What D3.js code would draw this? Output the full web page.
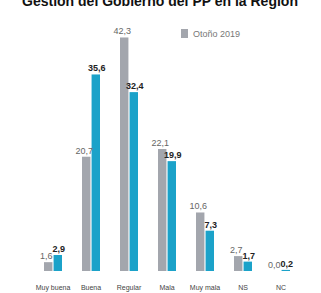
<!DOCTYPE html>
<html><head><meta charset="utf-8">
<script src="https://cdn.jsdelivr.net/npm/d3@7"></script>
<style>body{margin:0;background:#fff}svg{display:block}</style>
</head><body>
<svg id="c" width="321" height="293"></svg>
<script>
const categories = ["Muy buena","Buena","Regular","Mala","Muy mala","NS","NC"];
const otono2019 = [1.6, 20.7, 42.3, 22.1, 10.6, 2.7, 0.0];
const actual = [2.9, 35.6, 32.4, 19.9, 7.3, 1.7, 0.2];
const seriesKeys = ["otono","actual"];
const legendLabels = ["Otoño 2019"];
const title = "Gestión del Gobierno del PP en la Región";

const colors = {otono:"#a3a6ad", actual:"#1ba2c9"};
const svg = d3.select("#c");
const fmt = v => d3.format(".1f")(v).replace(".", ",");

const x = d3.scaleBand().domain(categories).range([34, 300]);
const x1 = d3.scaleBand().domain(seriesKeys).range([10, 28]).paddingInner(0.12);
const y = d3.scaleLinear().domain([0, 48]).range([271, 6]);

svg.append("text").attr("x", 160).attr("y", 6).attr("text-anchor","middle")
  .attr("font-family","Liberation Sans, Arial, sans-serif").attr("font-weight","bold")
  .attr("font-size", 14).attr("fill","#111").text(title);

const rows = categories.map((c,i)=>({cat:c, otono:otono2019[i], actual:actual[i]}));
const g = svg.append("g").selectAll("g").data(rows).join("g")
  .attr("transform", d=>`translate(${x(d.cat)},0)`);

g.selectAll("rect").data(d=>seriesKeys.map(k=>({k, v:d[k]}))).join("rect")
  .attr("x", d=>x1(d.k)).attr("width", x1.bandwidth())
  .attr("y", d=>y(d.v)).attr("height", d=>y(0)-y(d.v))
  .attr("fill", d=>colors[d.k]);

g.selectAll("text.v").data(d=>seriesKeys.map(k=>({k, v:d[k]}))).join("text")
  .attr("class","v")
  .attr("x", d=>x1(d.k)+x1.bandwidth()/2 + (d.k==="otono"?-2:1))
  .attr("y", d=>y(d.v)-3)
  .attr("text-anchor","middle")
  .attr("font-family","Liberation Sans, Arial, sans-serif")
  .attr("font-size", 9)
  .attr("font-weight", d=>d.k==="actual"?"bold":"normal")
  .attr("fill", d=>d.k==="actual"?"#222":"#666")
  .text(d=>fmt(d.v));

const xAxis = svg.append("g").attr("transform","translate(0,271)")
  .call(d3.axisBottom(x).tickSize(0).tickPadding(14));
xAxis.select(".domain").remove();
xAxis.selectAll("text").attr("font-family","Liberation Sans, Arial, sans-serif")
  .attr("font-size", 7).attr("fill","#444");

const lg = svg.append("g").attr("transform","translate(181,29)");
lg.append("rect").attr("width",7).attr("height",9).attr("fill",colors.otono);
lg.append("text").attr("x",12).attr("y",8).attr("font-family","Liberation Sans, Arial, sans-serif")
  .attr("font-size",9).attr("fill","#777").text(legendLabels[0]);
</script>
</body></html>
